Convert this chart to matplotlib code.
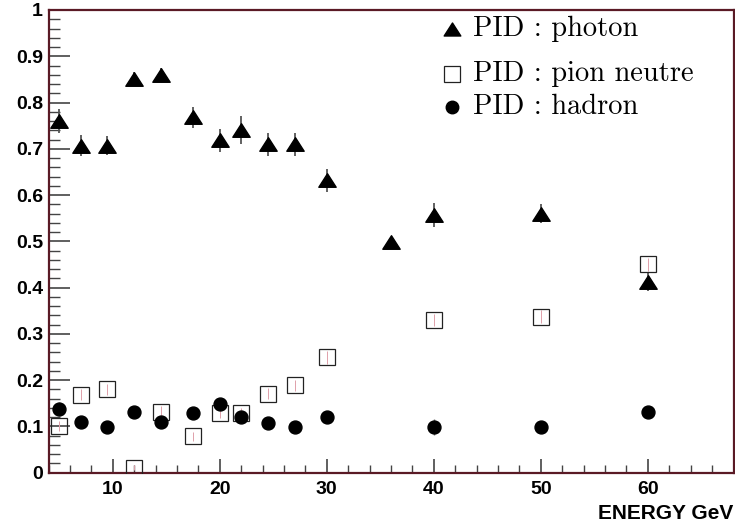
import matplotlib
matplotlib.use("Agg")
import matplotlib.pyplot as plt
from matplotlib.path import Path
from matplotlib.ticker import MultipleLocator, FuncFormatter
import numpy as np

# ---- data ----
energy_photon = [5, 7, 9.5, 12, 14.5, 17.5, 20, 22, 24.5, 27, 30, 36, 40, 50, 60]
photon = [0.76, 0.707, 0.707, 0.851, 0.859, 0.768, 0.718, 0.740, 0.710, 0.710, 0.632, 0.499, 0.556, 0.560, 0.412]
photon_err = [0.025, 0.022, 0.02, 0.015, 0.015, 0.022, 0.025, 0.03, 0.025, 0.025, 0.025, 0.005, 0.026, 0.02, 0.02]

energy_pion = [5, 7, 9.5, 12, 14.5, 17.5, 20, 22, 24.5, 27, 30, 40, 50, 60]
pion = [0.101, 0.169, 0.180, 0.011, 0.132, 0.079, 0.130, 0.128, 0.171, 0.189, 0.250, 0.330, 0.337, 0.450]
pion_err = [0.01, 0.012, 0.012, 0.006, 0.012, 0.01, 0.012, 0.012, 0.012, 0.012, 0.014, 0.014, 0.014, 0.015]

energy_hadron = [5, 7, 9.5, 12, 14.5, 17.5, 20, 22, 24.5, 27, 30, 40, 50, 60]
hadron = [0.137, 0.110, 0.099, 0.132, 0.109, 0.128, 0.148, 0.120, 0.107, 0.099, 0.120, 0.099, 0.099, 0.132]
hadron_err = [0.015, 0.012, 0.012, 0.012, 0.012, 0.012, 0.012, 0.012, 0.012, 0.012, 0.012, 0.018, 0.01, 0.01]

legend_labels = ["PID : photon", "PID : pion neutre", "PID : hadron"]
xlabel = "ENERGY GeV"

# ---- style ----
spine_color = "#5a1a25"
tri = Path([(0, 0.78), (-1, -0.78), (1, -0.78), (0, 0.78)],
           [Path.MOVETO, Path.LINETO, Path.LINETO, Path.CLOSEPOLY])

fig = plt.figure(figsize=(7.35, 5.26), dpi=100)
ax = fig.add_axes([0.066, 0.1013, 0.932, 0.8797])

ax.errorbar(energy_photon, photon, yerr=photon_err, fmt="none", ecolor="#555555",
            elinewidth=1.3, capsize=0, zorder=2)
ax.plot(energy_photon, photon, linestyle="none", marker=tri, markersize=12.5,
        color="black", zorder=3)

ax.errorbar(energy_pion, pion, yerr=pion_err, fmt="none", ecolor="#e0a0aa",
            elinewidth=0.7, capsize=0, zorder=2)
ax.plot(energy_pion, pion, linestyle="none", marker="s", markersize=11.5,
        markerfacecolor="none", markeredgecolor="#222222", markeredgewidth=0.9, zorder=3)

ax.errorbar(energy_hadron, hadron, yerr=hadron_err, fmt="none", ecolor="#777777",
            elinewidth=1.0, capsize=0, zorder=2)
ax.plot(energy_hadron, hadron, linestyle="none", marker="o", markersize=9.3,
        color="black", zorder=4)

ax.set_xlim(4, 68)
ax.set_ylim(0, 1)

ax.xaxis.set_major_locator(MultipleLocator(10))
ax.xaxis.set_minor_locator(MultipleLocator(2))
ax.yaxis.set_major_locator(MultipleLocator(0.1))
ax.yaxis.set_minor_locator(MultipleLocator(0.02))
ax.yaxis.set_major_formatter(FuncFormatter(lambda v, p: f"{v:.1f}".rstrip("0").rstrip(".") if v != 0 else "0"))
ax.xaxis.set_major_formatter(FuncFormatter(lambda v, p: "" if v <= 4 or v >= 68 else f"{int(round(v))}"))

ax.tick_params(axis="both", which="both", direction="in", color="#444444",
               top=False, right=False)
ax.tick_params(axis="y", which="major", length=15, width=1.2, pad=4)
ax.tick_params(axis="y", which="minor", length=8, width=1.0)
ax.tick_params(axis="x", which="major", length=10, width=1.2, pad=6)
ax.tick_params(axis="x", which="minor", length=5.5, width=1.0)

for lab in ax.get_xticklabels() + ax.get_yticklabels():
    lab.set_fontfamily("Liberation Sans")
    lab.set_fontweight("bold")
    lab.set_fontsize(14)

for s in ax.spines.values():
    s.set_color(spine_color)
    s.set_linewidth(1.6)

fig.text(0.998, 0.013, xlabel, ha="right", va="baseline", fontsize=15,
         fontweight="bold", family="Liberation Sans")

# ---- legend (keys + labels) ----
leg_x_marker = 0.589
leg_x_text = 0.620
leg_rows = [0.960, 0.862, 0.791]
leg_markers = [dict(marker=tri, markersize=12, color="black"),
               dict(marker="s", markersize=11, markerfacecolor="none",
                    markeredgecolor="#222222", markeredgewidth=0.9),
               dict(marker="o", markersize=9, color="black")]
for yy, lab, mk in zip(leg_rows, legend_labels, leg_markers):
    ax.plot([leg_x_marker], [yy], linestyle="none", transform=ax.transAxes,
            clip_on=False, **mk)
    ax.text(leg_x_text, yy, lab, transform=ax.transAxes, va="center", ha="left",
            fontsize=20.5, family="cmr10")

fig.savefig("out.png", dpi=100)
